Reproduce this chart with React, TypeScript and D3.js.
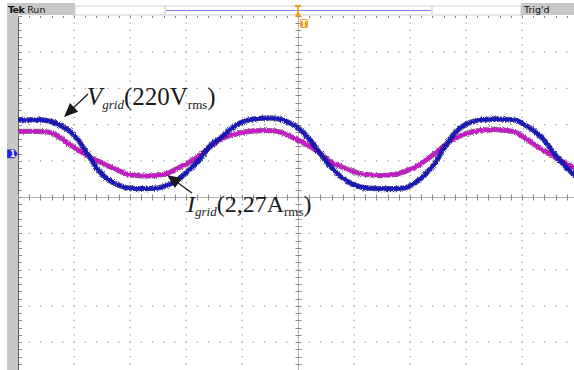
import React from 'react';
import * as d3 from 'd3';

const W = 574;
const H = 370;

// time in screen divisions (10 across), amplitude in vertical divisions from screen centre
const timeDiv = [
  0.0, 0.36, 0.54, 0.71, 0.89, 1.07, 1.25, 1.43, 1.61, 1.79, 1.96, 2.14, 2.32, 2.5, 2.68, 2.86,
  3.04, 3.25, 3.43, 3.61, 3.79, 3.96, 4.14, 4.32, 4.5, 4.68, 4.86, 5.04, 5.21, 5.39, 5.57, 5.75,
  5.93, 6.11, 6.29, 6.46, 6.73, 6.91, 7.09, 7.27, 7.45, 7.63, 7.8, 7.98, 8.16, 8.34, 8.52, 8.7,
  8.88, 9.05, 9.23, 9.41, 9.59, 9.77, 9.95,
];
const vGrid = [
  2.12, 2.13, 2.1, 2.01, 1.86, 1.58, 1.17, 0.75, 0.48, 0.33, 0.25, 0.23, 0.23, 0.25, 0.33, 0.48,
  0.72, 1.05, 1.41, 1.63, 1.86, 2.04, 2.13, 2.17, 2.18, 2.15, 2.04, 1.86, 1.58, 1.21, 0.86, 0.58,
  0.39, 0.28, 0.24, 0.23, 0.23, 0.25, 0.39, 0.62, 0.94, 1.4, 1.77, 1.99, 2.1, 2.14, 2.15, 2.14,
  2.12, 1.99, 1.81, 1.54, 1.17, 0.85, 0.58,
];
const iGrid = [
  1.81, 1.81, 1.79, 1.68, 1.49, 1.3, 1.13, 0.99, 0.86, 0.73, 0.63, 0.59, 0.58, 0.6, 0.66, 0.8,
  0.94, 1.16, 1.38, 1.58, 1.7, 1.77, 1.81, 1.83, 1.83, 1.79, 1.67, 1.54, 1.4, 1.21, 0.98, 0.85,
  0.73, 0.65, 0.61, 0.59, 0.62, 0.71, 0.82, 1.0, 1.21, 1.44, 1.61, 1.74, 1.81, 1.85, 1.86, 1.84,
  1.79, 1.63, 1.44, 1.26, 1.1, 0.94, 0.8,
];
const ch1Offset = 1.19; // channel 1 ground marker, divisions

const x = d3.scaleLinear().domain([0, 10]).range([18, 578]);
const y = d3.scaleLinear().domain([-5, 5]).range([378.25, 15.75]);

const majorX = d3.range(0, 11);
const majorY = d3.range(-5, 6);
const minorX = d3.range(0, 50.5).map((i) => i * 0.2);
const minorY = d3.range(0, 50.5).map((i) => -5 + i * 0.2);

function arrowHead(tail: [number, number], tip: [number, number], len = 14, half = 6) {
  const dx = tip[0] - tail[0];
  const dy = tip[1] - tail[1];
  const d = Math.hypot(dx, dy);
  const ux = dx / d, uy = dy / d;
  const bx = tip[0] - ux * len, by = tip[1] - uy * len;
  return `${tip[0]},${tip[1]} ${bx - uy * half},${by + ux * half} ${bx + uy * half},${by - ux * half}`;
}

export default function App() {
  const line = d3
    .line<number>()
    .x((_, i) => x(timeDiv[i]))
    .y((d) => y(d))
    .curve(d3.curveMonotoneX);

  const a1: [[number, number], [number, number]] = [[88, 94], [64, 117]];
  const a2: [[number, number], [number, number]] = [[192, 193], [167, 175]];

  return (
    <svg width={W} height={H} style={{ position: 'absolute', left: 0, top: 0, background: '#fff' }}>
      <defs>
        <clipPath id="plot">
          <rect x={18} y={16} width={W - 18} height={H - 16} />
        </clipPath>
        <filter id="fuzz" x="-5%" y="-30%" width="110%" height="160%">
          <feTurbulence type="fractalNoise" baseFrequency="1.1 2.2" numOctaves={1} seed={4} result="n" />
          <feDisplacementMap in="SourceGraphic" in2="n" scale={4} xChannelSelector="R" yChannelSelector="G" />
        </filter>
      </defs>

      {/* top status bar */}
      <rect x={7} y={3} width={68} height={12} fill="#c8c8c8" />
      <rect x={521} y={3} width={53} height={12} fill="#c8c8c8" />
      <rect x={75} y={6} width={446} height={9} fill="#fff" stroke="#d0d0d0" strokeWidth={1} />
      <line x1={165} x2={165} y1={6} y2={15} stroke="#c8c8c8" />
      <line x1={432} x2={432} y1={6} y2={15} stroke="#c8c8c8" />
      <line x1={166} x2={431} y1={10.5} y2={10.5} stroke="#8080ff" strokeWidth={1.2} />
      <text x={8} y={12.5} fontFamily="DejaVu Sans" fontSize={9.5} fill="#111">
        <tspan fontWeight="bold" letterSpacing={-0.6}>Tek</tspan>
        <tspan dx={3}>Run</tspan>
      </text>
      <text x={524} y={12.5} fontFamily="DejaVu Sans" fontSize={9.5} fill="#111">Trig'd</text>

      {/* left side bar */}
      <rect x={7} y={15} width={11} height={H - 15} fill="#c8c8c8" />
      <line x1={18.5} x2={18.5} y1={16} y2={H} stroke="#556055" strokeWidth={1} />

      {/* grid dots */}
      <g fill="#a0a0a0">
        {majorX.filter((k) => k !== 0 && k !== 5).map((k) =>
          minorY.map((m, j) => (
            <rect key={`vx${k}-${j}`} x={x(k) - 0.5} y={y(m) - 0.5} width={1.3} height={1.3} />
          ))
        )}
        {majorY.filter((k) => k !== 0 && k !== 5).map((k) =>
          minorX.map((m, j) => (
            <rect key={`hy${k}-${j}`} x={x(m) - 0.5} y={y(k) - 0.5} width={1.3} height={1.3} />
          ))
        )}
      </g>

      {/* centre axes with ticks */}
      <g stroke="#b0b0b0">
        <line x1={x(5) + 0.5} x2={x(5) + 0.5} y1={16} y2={H} />
        <line x1={18} x2={W} y1={y(0) + 0.5} y2={y(0) + 0.5} />
      </g>
      <g stroke="#8a8a8a">
        {minorY.map((m, j) => (
          <line key={`ct${j}`} x1={x(5) - 2.5} x2={x(5) + 3.5} y1={Math.round(y(m)) + 0.5} y2={Math.round(y(m)) + 0.5} />
        ))}
        {minorX.map((m, j) => (
          <line key={`cx${j}`} y1={y(0) - 2.5} y2={y(0) + 3.5} x1={Math.round(x(m)) + 0.5} x2={Math.round(x(m)) + 0.5} />
        ))}
        {minorY.map((m, j) => (
          <line key={`lt${j}`} x1={19} x2={22} y1={Math.round(y(m)) + 0.5} y2={Math.round(y(m)) + 0.5} />
        ))}
        {minorX.map((m, j) => (
          <line key={`tt${j}`} y1={16} y2={18} x1={Math.round(x(m)) + 0.5} x2={Math.round(x(m)) + 0.5} />
        ))}
      </g>

      {/* traces */}
      <g clipPath="url(#plot)" fill="none" strokeLinejoin="round">
        <g filter="url(#fuzz)">
          <path d={line(iGrid) || ''} stroke="#6a1070" strokeWidth={5.2} opacity={0.7} />
          <path d={line(iGrid) || ''} stroke="#c818c8" strokeWidth={3.4} />
        </g>
        <g filter="url(#fuzz)">
          <path d={line(vGrid) || ''} stroke="#10105e" strokeWidth={5.4} opacity={0.7} />
          <path d={line(vGrid) || ''} stroke="#1616bc" strokeWidth={3.6} />
        </g>
      </g>

      {/* channel 1 marker */}
      <path
        d={`M7.5,${y(ch1Offset) - 4} h7 l3,4 l-3,4 h-7 z`}
        fill="#2020e8"
        stroke="#1010a0"
        strokeWidth={0.5}
      />
      <text x={10} y={y(ch1Offset) + 3.5} fontFamily="DejaVu Sans" fontSize={8} fontWeight="bold" fill="#fff">1</text>

      {/* trigger markers */}
      <path d={`M295,5 h6 v2 h-2 v6 l2,2 l-3,3 l-3,-3 l2,-2 v-6 h-2 z`} fill="#f0a020" />
      <rect x={300} y={19} width={8} height={9} rx={2} fill="#f0a020" />
      <text x={304} y={26.5} textAnchor="middle" fontFamily="DejaVu Sans" fontSize={8} fontWeight="bold" fill="#fff">T</text>

      {/* annotations */}
      <g fill="#1a1a1a" stroke="#1a1a1a">
        <line x1={a1[0][0]} y1={a1[0][1]} x2={a1[1][0] + 6} y2={a1[1][1] - 6} strokeWidth={1.3} />
        <polygon points={arrowHead(a1[0], a1[1])} stroke="none" />
        <line x1={a2[0][0]} y1={a2[0][1]} x2={a2[1][0] + 7} y2={a2[1][1] + 5} strokeWidth={1.3} />
        <polygon points={arrowHead(a2[0], a2[1])} stroke="none" />
      </g>
      <text x={87} y={105} fontFamily="Liberation Serif" fontSize={25} fill="#1a1a1a">
        <tspan fontStyle="italic">V</tspan>
        <tspan fontStyle="italic" fontSize={13} dy={4}>grid</tspan>
        <tspan dy={-4}>(220V</tspan>
        <tspan fontSize={13} dy={4}>rms</tspan>
        <tspan dy={-4}>)</tspan>
      </text>
      <text x={187} y={212} fontFamily="Liberation Serif" fontSize={24} fill="#1a1a1a">
        <tspan fontStyle="italic">I</tspan>
        <tspan fontStyle="italic" fontSize={13} dy={4}>grid</tspan>
        <tspan dy={-4}>(2,27A</tspan>
        <tspan fontSize={13} dy={4}>rms</tspan>
        <tspan dy={-4}>)</tspan>
      </text>
    </svg>
  );
}
